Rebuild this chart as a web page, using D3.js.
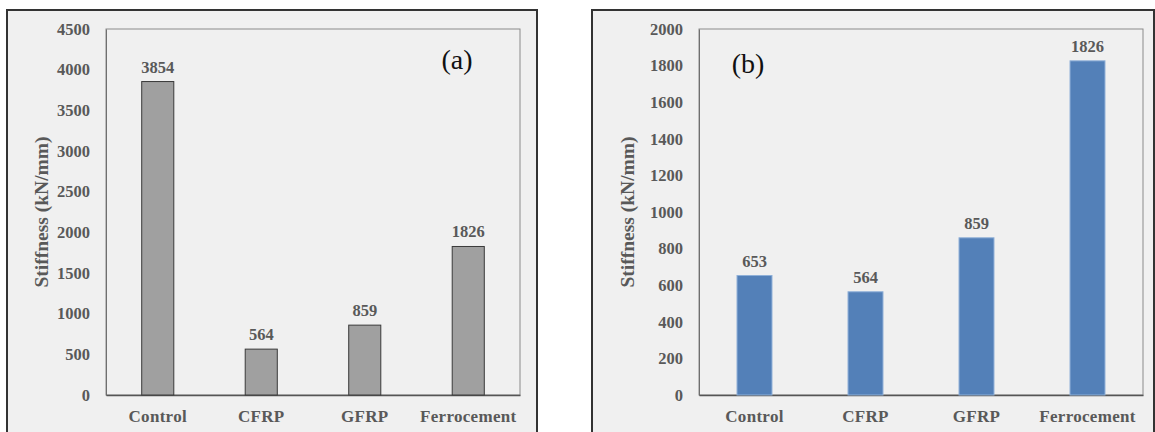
<!DOCTYPE html>
<html>
<head>
<meta charset="utf-8">
<script src="https://cdn.jsdelivr.net/npm/d3@7/dist/d3.min.js"></script>
<style>
  body { margin: 0; background: #fff; }
  svg text { font-family: "Liberation Serif", "Times New Roman", serif; }
</style>
</head>
<body>
<svg id="chart" width="1155" height="432"></svg>
<script>
var categories = ["Control", "CFRP", "GFRP", "Ferrocement"];
var stiffnessA = [3854, 564, 859, 1826];
var stiffnessB = [653, 564, 859, 1826];
var ticksA = [0, 500, 1000, 1500, 2000, 2500, 3000, 3500, 4000, 4500];
var ticksB = [0, 200, 400, 600, 800, 1000, 1200, 1400, 1600, 1800, 2000];

var svg = d3.select("#chart");

function drawPanel(opt) {
    var g = svg.append("g");

    // outer panel
    g.append("rect")
        .attr("x", opt.box[0])
        .attr("y", opt.box[1])
        .attr("width", opt.box[2])
        .attr("height", 440)
        .attr("fill", "#f0f0f0")
        .attr("stroke", "#333")
        .attr("stroke-width", 2);

    var x = d3.scaleBand()
        .domain(categories)
        .range([opt.plot.left, opt.plot.right])
        .padding(0);
    var y = d3.scaleLinear()
        .domain([0, opt.max])
        .range([opt.plot.bottom, opt.plot.top]);

    // plot frame
    g.append("rect")
        .attr("x", opt.plot.left)
        .attr("y", opt.plot.top)
        .attr("width", opt.plot.right - opt.plot.left)
        .attr("height", opt.plot.bottom - opt.plot.top)
        .attr("fill", "none")
        .attr("stroke", "#8a8a8a")
        .attr("stroke-width", 1);

    var yAxis = g.append("g")
        .attr("transform", "translate(" + opt.plot.left + ",0)")
        .call(d3.axisLeft(y).tickValues(opt.ticks).tickFormat(d3.format("d")).tickSize(0).tickPadding(opt.tickPad));
    yAxis.select(".domain").attr("stroke", "#6f6f6f");
    yAxis.selectAll("text")
        .attr("fill", "#595959")
        .style("font-size", "16.5px")
        .style("font-weight", "bold");

    var xAxis = g.append("g")
        .attr("transform", "translate(0," + opt.plot.bottom + ")")
        .call(d3.axisBottom(x).tickSize(0).tickPadding(15));
    xAxis.select(".domain").attr("stroke", "#555").attr("stroke-width", 1.3);
    xAxis.selectAll("text")
        .attr("fill", "#595959")
        .style("font-size", "17px")
        .style("font-weight", "bold")
        .style("letter-spacing", "0.3px");

    var bw = x.step() * opt.barFrac;
    g.selectAll(".bar")
        .data(opt.values)
        .enter()
        .append("rect")
        .attr("class", "bar")
        .attr("x", function(d, i) { return x(categories[i]) + x.step() / 2 - bw / 2; })
        .attr("y", function(d) { return y(d); })
        .attr("width", bw)
        .attr("height", function(d) { return y(0) - y(d); })
        .attr("fill", opt.fill)
        .attr("stroke", opt.stroke)
        .attr("stroke-width", 1);

    g.selectAll(".valLabel")
        .data(opt.values)
        .enter()
        .append("text")
        .attr("class", "valLabel")
        .attr("x", function(d, i) { return x(categories[i]) + x.step() / 2; })
        .attr("y", function(d) { return y(d) - 9; })
        .attr("text-anchor", "middle")
        .attr("fill", "#595959")
        .style("font-size", "16.5px")
        .style("font-weight", "bold")
        .text(function(d) { return d; });

    g.append("text")
        .attr("transform", "translate(" + opt.titleX + "," + ((opt.plot.top + opt.plot.bottom) / 2) + ") rotate(-90)")
        .attr("text-anchor", "middle")
        .attr("dy", "0.35em")
        .attr("fill", "#595959")
        .style("font-size", "19.5px")
        .style("font-weight", "bold")
        .text("Stiffness (kN/mm)");

    g.append("text")
        .attr("x", opt.tag[0])
        .attr("y", opt.tag[1])
        .attr("text-anchor", "middle")
        .attr("fill", "#111")
        .style("font-size", "28px")
        .text(opt.tagText);
}

drawPanel({
    box: [7, 10, 530],
    plot: {left: 106, right: 520, top: 29, bottom: 395},
    max: 4500,
    ticks: ticksA,
    values: stiffnessA,
    tickPad: 16,
    barFrac: 0.31,
    fill: "#a0a0a0",
    stroke: "#3a3a3a",
    titleX: 41,
    tag: [457, 69],
    tagText: "(a)"
});

drawPanel({
    box: [592, 10, 562],
    plot: {left: 699, right: 1143, top: 29, bottom: 395},
    max: 2000,
    ticks: ticksB,
    values: stiffnessB,
    tickPad: 16,
    barFrac: 0.315,
    fill: "#5380b8",
    stroke: "#8fb0d8",
    titleX: 627,
    tag: [748, 73],
    tagText: "(b)"
});
</script>
</body>
</html>
